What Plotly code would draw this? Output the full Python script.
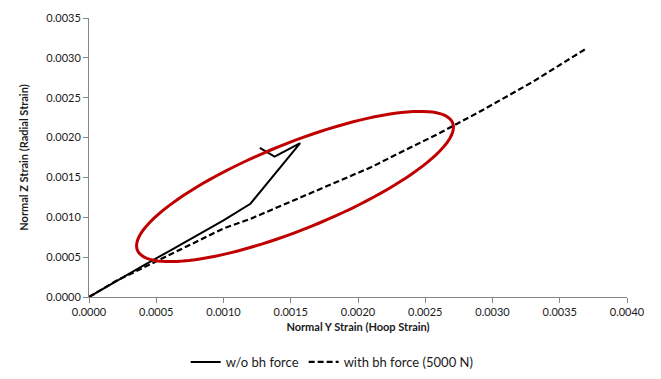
import numpy as np
import plotly.graph_objects as go

# Strain pairs (hoop strain on x, radial strain on y)
hoop_no_bh = [0.0, 0.0002, 0.0004, 0.0006, 0.00077, 0.0010, 0.0012, 0.00157, 0.00138, 0.00127]
radial_no_bh = [0.0, 0.0002, 0.00039, 0.00058, 0.00074, 0.00096, 0.00117, 0.00193, 0.00176, 0.00187]

hoop_bh = [0.0, 0.0002, 0.0006, 0.0010, 0.0012, 0.0015, 0.0018, 0.0021, 0.0023, 0.0026, 0.0029, 0.0033, 0.0037]
radial_bh = [0.0, 0.0002, 0.00053, 0.00086, 0.00098, 0.00120, 0.00141, 0.00163, 0.00180, 0.00205, 0.00232, 0.00270, 0.00312]

x_ticks = [0.0000, 0.0005, 0.0010, 0.0015, 0.0020, 0.0025, 0.0030, 0.0035, 0.0040]
y_ticks = [0.0000, 0.0005, 0.0010, 0.0015, 0.0020, 0.0025, 0.0030, 0.0035]

W, H = 661, 379
M_L, M_R, M_T, M_B = 89, 34, 18, 82
X_MAX, Y_MAX = 0.0040, 0.0035
plot_w = W - M_L - M_R
plot_h = H - M_T - M_B

FONT = "Lato"

fig = go.Figure()
fig.add_trace(go.Scatter(
    x=hoop_no_bh, y=radial_no_bh, mode="lines", name="w/o bh force",
    line=dict(color="black", width=2),
))
fig.add_trace(go.Scatter(
    x=hoop_bh, y=radial_bh, mode="lines", name="with bh force (5000 N)",
    line=dict(color="black", width=2.2, dash="6px,3px"),
))

# Highlight ellipse, defined in pixel space (rotated) and mapped to data units
cx_px, cy_px = 295.0, 186.5
a_px, b_px = 170.0, 43.0
theta = np.deg2rad(22.0)
t = np.linspace(0, 2 * np.pi, 121)
ex = cx_px + a_px * np.cos(t) * np.cos(theta) - b_px * np.sin(t) * np.sin(theta)
ey = cy_px - (a_px * np.cos(t) * np.sin(theta) + b_px * np.sin(t) * np.cos(theta))
dx = (ex - M_L) / plot_w * X_MAX
dy = (M_T + plot_h - ey) / plot_h * Y_MAX
path = "M " + " L ".join(f"{u:.7f},{v:.7f}" for u, v in zip(dx, dy)) + " Z"
fig.add_shape(type="path", path=path, xref="x", yref="y",
              line=dict(color="#C00000", width=3))

axis_common = dict(
    showgrid=False, zeroline=False, showline=True, linecolor="#868686", linewidth=1,
    ticks="outside", ticklen=5, tickcolor="#868686", tickformat=".4f",
    tickfont=dict(family=FONT, size=11, color="#1a1a1a"),
    title_font=dict(family=FONT, size=11, color="#1a1a1a"),
)
fig.update_xaxes(
    range=[0, X_MAX], tickvals=x_ticks,
    title_text="<b>Normal Y Strain (Hoop Strain)</b>", title_standoff=6,
    **axis_common,
)
fig.update_yaxes(
    range=[0, Y_MAX], tickvals=y_ticks,
    title_text="<b>Normal Z Strain (Radial Strain)</b>", title_standoff=15,
    **axis_common,
)

fig.update_layout(
    width=W, height=H,
    margin=dict(l=M_L, r=M_R, t=M_T, b=M_B, autoexpand=False),
    plot_bgcolor="white", paper_bgcolor="white",
    font=dict(family=FONT, size=11, color="#1a1a1a"),
    legend=dict(orientation="h", x=0.452, xanchor="center",
                yref="container", y=1 - 362 / H, yanchor="middle",
                font=dict(family=FONT, size=13, color="#1a1a1a"), itemwidth=30),
)

fig.write_html("out.html")
